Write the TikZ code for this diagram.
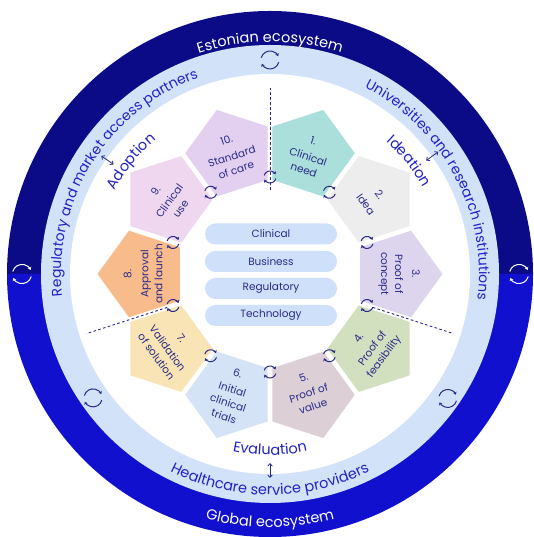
\documentclass[tikz,border=0pt]{standalone}
\usepackage{fontspec}
\setmainfont{Poppins}
\usetikzlibrary{shapes.geometric,decorations.text,arrows.meta,calc}
\definecolor{navyring}{HTML}{0B0B87}
\definecolor{bluering}{HTML}{1010CE}
\definecolor{lightring}{HTML}{D2E2F9}
\definecolor{ink}{HTML}{2A2A88}
\definecolor{phaseblue}{HTML}{2222C8}
\definecolor{pillfill}{HTML}{CFE0FA}
\definecolor{pcA}{HTML}{ABDFDB}
\definecolor{pcB}{HTML}{EDEDEE}
\definecolor{pcC}{HTML}{DDD5EE}
\definecolor{pcD}{HTML}{D3E0C0}
\definecolor{pcE}{HTML}{DCCFD6}
\definecolor{pcF}{HTML}{D5E3F6}
\definecolor{pcG}{HTML}{F8E4B4}
\definecolor{pcH}{HTML}{F8BC8C}
\definecolor{pcI}{HTML}{EFD7EF}
\definecolor{pcJ}{HTML}{E3D0F1}
\begin{document}
\begin{tikzpicture}[x=1pt,y=1pt,
  pent/.style={regular polygon, regular polygon sides=5, minimum size=91pt, inner sep=0pt, draw=none},
  ptext/.style={text=ink, align=center, font=\fontsize{10.5}{14}\selectfont, inner sep=0pt},
  pill/.style={fill=pillfill, rounded corners=10.5pt, minimum width=132pt, minimum height=21pt, text=ink, font=\fontsize{10.5}{12}\selectfont, inner sep=0pt},
  divider/.style={ink, line width=0.9pt, dash pattern=on 2.6pt off 2.4pt},
  dblarrow/.style={ink, line width=0.8pt, {Straight Barb[length=2.5pt,width=4.5pt]}-{Straight Barb[length=2.5pt,width=4.5pt]}},
  cyc/.pic={
    \draw[line width=1pt,-{Stealth[length=2.8pt,width=3.8pt]}] (165:6) arc[start angle=165,end angle=25,radius=6];
    \draw[line width=1pt,-{Stealth[length=2.8pt,width=3.8pt]}] (345:6) arc[start angle=345,end angle=205,radius=6];
  }
]
\useasboundingbox (0,0) rectangle (533,537);
\coordinate (c) at (270,263);

% rings
\fill[navyring] ($(c)+(0:263)$) arc[start angle=0,end angle=180,radius=263] -- cycle;
\fill[bluering] ($(c)+(180:263)$) arc[start angle=180,end angle=360,radius=263] -- cycle;
\fill[lightring] (c) circle[radius=229];
\fill[white] (c) circle[radius=200];

% ring texts
\path[decorate, decoration={text along path, text align=center, text color=white,
  text={|\fontsize{14.5}{16}\selectfont|Estonian ecosystem}}]
  ($(c)+(150:232)$) arc[start angle=150,end angle=30,radius=232];
\path[decorate, decoration={text along path, text align=center, text color=white,
  text={|\fontsize{14.5}{16}\selectfont|Global ecosystem}}]
  ($(c)+(210:253)$) arc[start angle=210,end angle=330,radius=253];
\path[decorate, decoration={text along path, text align=center, text color=phaseblue,
  text={|\fontsize{14}{16}\selectfont|Universities and research institutions}}]
  ($(c)+(90:209)$) arc[start angle=90,end angle=-34,radius=209];
\path[decorate, decoration={text along path, text align=center, text color=phaseblue,
  text={|\fontsize{14}{16}\selectfont|Regulatory and market access partners}}]
  ($(c)+(210:209)$) arc[start angle=210,end angle=86,radius=209];
\path[decorate, decoration={text along path, text align=center, text color=phaseblue,
  text={|\fontsize{14.5}{16}\selectfont|Healthcare service providers}}]
  ($(c)+(215:221)$) arc[start angle=215,end angle=325,radius=221];

% phase labels
\path[decorate, decoration={text along path, text align=center, text color=phaseblue,
  text={|\fontsize{14.5}{16}\selectfont|Ideation}}]
  ($(c)+(79:176)$) arc[start angle=79,end angle=-1,radius=176];
\path[decorate, decoration={text along path, text align=center, text color=phaseblue,
  text={|\fontsize{14.5}{16}\selectfont|Adoption}}]
  ($(c)+(181:176)$) arc[start angle=181,end angle=101,radius=176];
\path[decorate, decoration={text along path, text align=center, text color=phaseblue,
  text={|\fontsize{14.5}{16}\selectfont|Evaluation}}]
  ($(c)+(-130:181)$) arc[start angle=-130,end angle=-50,radius=181];

% double arrows
\coordinate (ia) at ($(c)+(36:193)$);  \coordinate (ib) at ($(c)+(36:208)$);
\coordinate (aa) at ($(c)+(145:191)$); \coordinate (ab) at ($(c)+(145:206)$);
\coordinate (ea) at ($(c)+(-90:189)$); \coordinate (eb) at ($(c)+(-90:204)$);
\draw[dblarrow] (ia) -- (ib);
\draw[dblarrow] (aa) -- (ab);
\draw[dblarrow] (ea) -- (eb);

% outer cycle icons
\pic[ink, scale=1.5] at ($(c)+(90:214)$) {cyc};
\pic[ink, scale=1.5] at ($(c)+(-145:216)$) {cyc};
\pic[ink, scale=1.5] at ($(c)+(-35:217)$) {cyc};
\pic[white, scale=1.6] at ($(c)+(180:248)$) {cyc};
\pic[white, scale=1.6] at ($(c)+(0:249)$) {cyc};

% pentagons
\foreach \n/\a/\col in {1/72/pcA,2/36/pcB,3/0/pcC,4/-36/pcD,5/-72/pcE,6/-108/pcF,7/-144/pcG,8/180/pcH,9/144/pcI,10/108/pcJ}{
  \node[pent, fill=\col, rotate=\a-90] (p\n) at ($(c)+(\a:127)$) {};
}

% pentagon texts
\node[ptext, rotate=-18] (t1) at ($(c)+(72:125)$) {1.\\[3pt]Clinical\\need};
\node[ptext, rotate=-54] (t2) at ($(c)+(36:127)$) {2.\\[3pt]Idea};
\node[ptext, rotate=-90] (t3) at ($(c)+(0:129)$) {3.\\[3pt]Proof of\\concept};
\node[ptext, rotate=54] (t4) at ($(c)+(-36:126)$) {4.\\[3pt]Proof of\\feasibility};
\node[ptext, rotate=18] (t5) at ($(c)+(-72:124)$) {5.\\[3pt]Proof of\\value};
\node[ptext, rotate=-18] (t6) at ($(c)+(-108:127)$) {6.\\[3pt]Initial\\clinical\\trials};
\node[ptext, rotate=-54] (t7) at ($(c)+(-144:125)$) {7.\\[3pt]Validation\\of solution};
\node[ptext, rotate=90] (t8) at ($(c)+(180:127)$) {8.\\[3pt]Approval\\and launch};
\node[ptext, rotate=54] (t9) at ($(c)+(144:126)$) {9.\\[3pt]Clinical\\use};
\node[ptext, rotate=18] (t10) at ($(c)+(108:125)$) {10.\\[3pt]Standard\\of care};

% dividers
\coordinate (d1a) at ($(c)+(90:84)$);   \coordinate (d1b) at ($(c)+(90:186)$);
\coordinate (d2a) at ($(c)+(-18:108)$); \coordinate (d2b) at ($(c)+(-18:193)$);
\coordinate (d3a) at ($(c)+(-162:108)$);\coordinate (d3b) at ($(c)+(-162:193)$);
\draw[divider] (d1a) -- (d1b);
\draw[divider] (d2a) -- (d2b);
\draw[divider] (d3a) -- (d3b);

% junction icons
\foreach \a/\r in {90/97,54/101,18/102,-18/102,-54/101,-90/98,-126/101,-162/102,162/102,126/101}{
  \pic[ink] at ($(c)+(\a:\r)$) {cyc};
}

% centre pills
\node[pill] (clin) at (271,303) {Clinical};
\node[pill] (bus)  at (271,275.5) {Business};
\node[pill] (reg)  at (271,248.5) {Regulatory};
\node[pill] (tech) at (271,221.5) {Technology};
\end{tikzpicture}
\end{document}
